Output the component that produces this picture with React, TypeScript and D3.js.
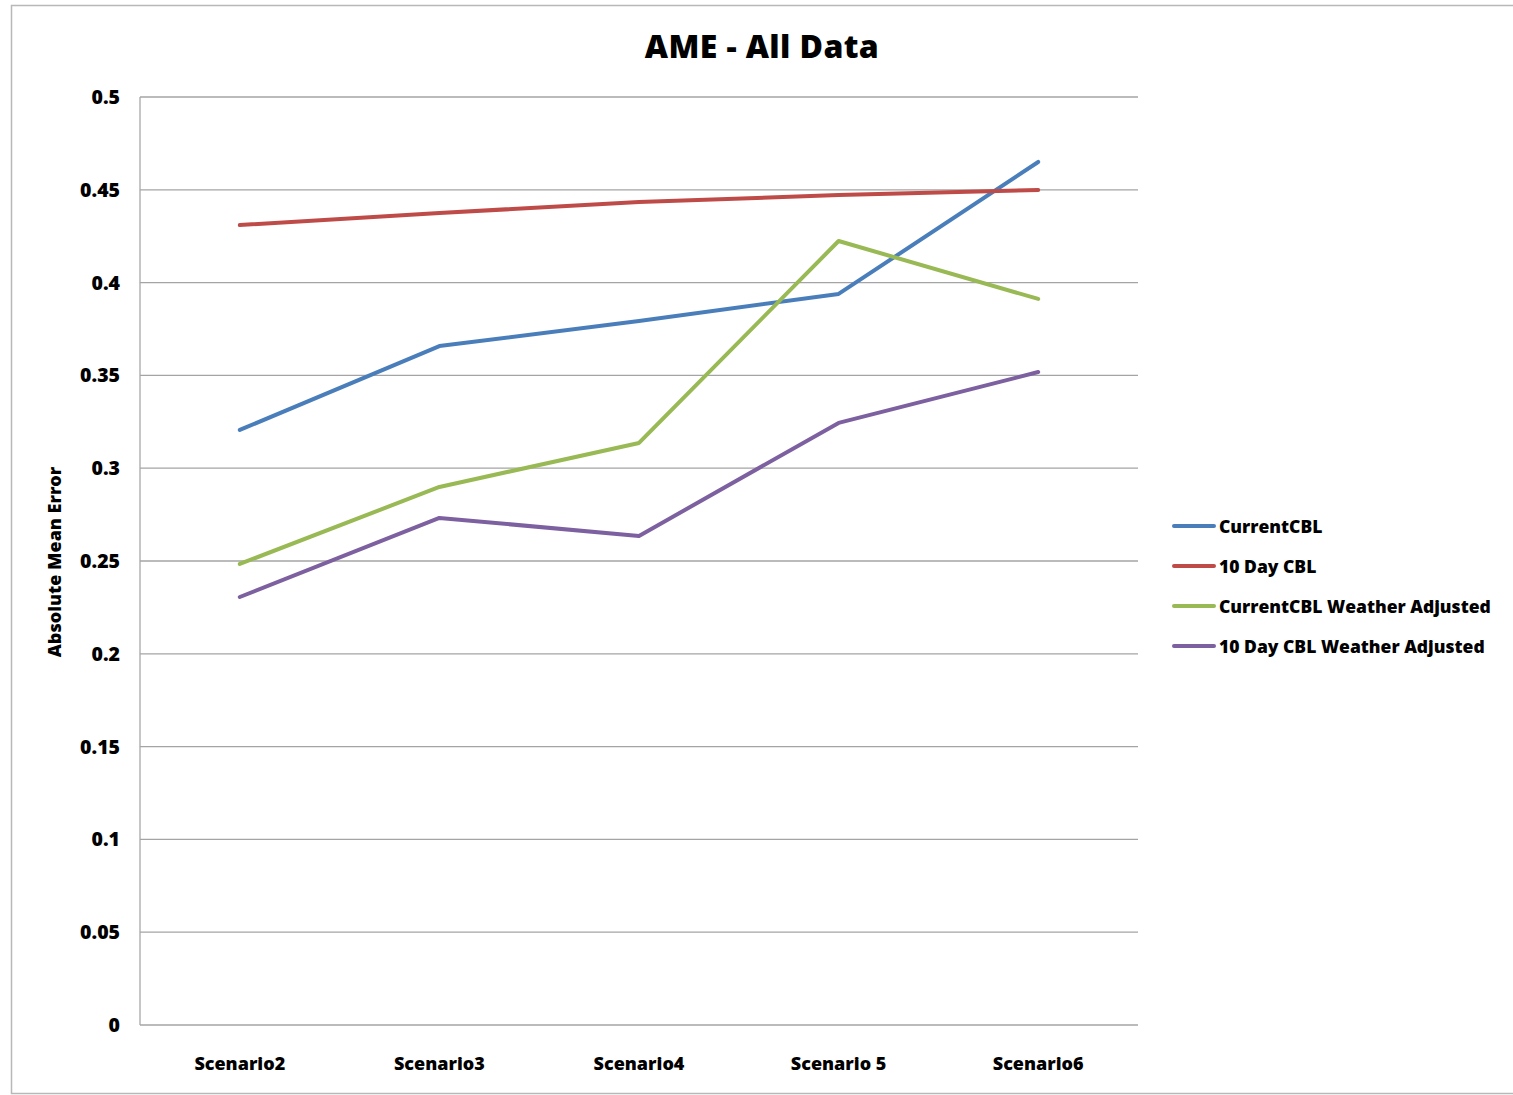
import React from "react";
import * as d3 from "d3";

const categories = ["Scenario 2", "Scenario 3", "Scenario 4", "Scenario 5", "Scenario 6"];
const categoryLabels = ["Scenario2", "Scenario3", "Scenario4", "Scenario 5", "Scenario6"];

const currentCBL = [0.3206, 0.3658, 0.3793, 0.3939, 0.465];
const tenDayCBL = [0.431, 0.4375, 0.4434, 0.4472, 0.4499];
const currentCBLWeather = [0.2484, 0.2899, 0.3136, 0.4224, 0.3912];
const tenDayCBLWeather = [0.2306, 0.2732, 0.2635, 0.3244, 0.3518];

const seriesNames = ["CurrentCBL", "10 Day CBL", "CurrentCBL Weather Adjusted", "10 Day CBL Weather Adjusted"];
const seriesColors = ["#4A7EBB", "#BE4B48", "#98B954", "#7D60A0"];
const yTicks = [0, 0.05, 0.1, 0.15, 0.2, 0.25, 0.3, 0.35, 0.4, 0.45, 0.5];

const W = 1513;
const H = 1095;
const plot = { left: 140, right: 1138, top: 97, bottom: 1025 };
const FONT = "'Open Sans', Lato, sans-serif";

export default function App() {
  const series = [currentCBL, tenDayCBL, currentCBLWeather, tenDayCBLWeather];
  const x = d3
    .scaleBand<string>()
    .domain(categories)
    .range([plot.left, plot.right])
    .paddingInner(0)
    .paddingOuter(0);
  const xc = (c: string) => (x(c) ?? 0) + x.bandwidth() / 2;
  const y = d3.scaleLinear().domain([0, 0.5]).range([plot.bottom, plot.top]);
  const line = d3
    .line<number>()
    .x((_, i) => xc(categories[i]))
    .y((v) => y(v));

  return (
    <svg
      width={W}
      height={H}
      style={{ position: "absolute", left: 0, top: 0, background: "#fff" }}
    >
      <rect x={11.5} y={5.5} width={W} height={1088} fill="#fff" stroke="#b8b8b8" strokeWidth={1.5} />
      <text
        x={762}
        y={58}
        textAnchor="middle"
        fontFamily={FONT}
        fontWeight={800}
        fontSize={32}
        letterSpacing={0.4}
        fill="#000"
      >
        AME - All Data
      </text>

      {/* horizontal gridlines and y tick labels */}
      {yTicks.map((t) => (
        <g key={t}>
          <line
            x1={plot.left}
            x2={plot.right}
            y1={y(t)}
            y2={y(t)}
            stroke="#a4a4a4"
            strokeWidth={1.3}
          />
          <text
            x={120}
            y={y(t) + 7}
            textAnchor="end"
            fontFamily={FONT}
            fontWeight={800}
            fontSize={19.5}
            fill="#000"
          >
            {String(t)}
          </text>
        </g>
      ))}
      <line x1={plot.left} x2={plot.left} y1={plot.top} y2={plot.bottom} stroke="#a8a8a8" strokeWidth={1.3} />

      {/* category labels */}
      {categories.map((c, i) => (
        <text
          key={c}
          x={xc(c)}
          y={1070}
          textAnchor="middle"
          fontFamily={FONT}
          fontWeight={800}
          fontSize={18}
          fill="#000"
        >
          {categoryLabels[i]}
        </text>
      ))}

      <text
        transform={`translate(61,562) rotate(-90)`}
        textAnchor="middle"
        fontFamily={FONT}
        fontWeight={800}
        fontSize={18}
        fill="#000"
      >
        Absolute Mean Error
      </text>

      {series.map((s, i) => (
        <path
          key={seriesNames[i]}
          d={line(s) ?? ""}
          fill="none"
          stroke={seriesColors[i]}
          strokeWidth={4}
          strokeLinecap="round"
          strokeLinejoin="round"
        />
      ))}

      {/* legend */}
      {seriesNames.map((n, i) => (
        <g key={n} transform={`translate(0,${526 + i * 40})`}>
          <line x1={1174} x2={1214} y1={0} y2={0} stroke={seriesColors[i]} strokeWidth={4} strokeLinecap="round" />
          <text
            x={1219}
            y={6.5}
            fontFamily={FONT}
            fontWeight={800}
            fontSize={17.5}
            fill="#000"
          >
            {n}
          </text>
        </g>
      ))}
    </svg>
  );
}
